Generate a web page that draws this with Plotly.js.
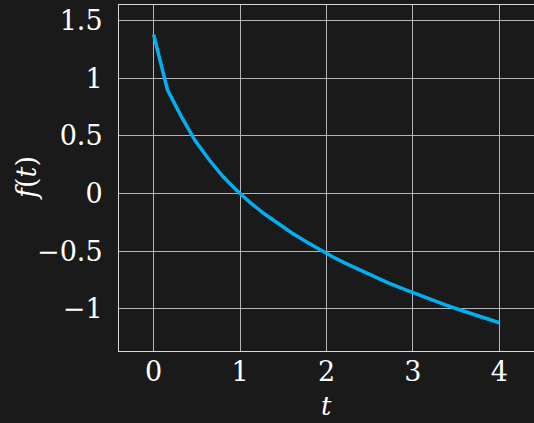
<!DOCTYPE html>
<html>
<head>
<meta charset="utf-8">
<script src="https://cdn.plot.ly/plotly-3.0.1.min.js"></script>
<style>html,body{margin:0;padding:0;background:#1a1a1a;}#chart{width:534px;height:423px;}</style>
</head>
<body>
<div id="chart"></div>
<script>
const tValues = [0, 0.16, 0.32, 0.48, 0.64, 0.8, 0.96, 1.12, 1.28, 1.44, 1.6, 1.76, 1.92, 2.08, 2.24, 2.4, 2.56, 2.72, 2.88, 3.04, 3.2, 3.36, 3.52, 3.68, 3.84, 4.0];
const fValues = [1.38, 0.90, 0.67, 0.46, 0.295, 0.15, 0.028, -0.08, -0.175, -0.262, -0.342, -0.416, -0.487, -0.552, -0.612, -0.669, -0.724, -0.776, -0.825, -0.872, -0.917, -0.961, -1.003, -1.043, -1.082, -1.12];
const xTickVals = [0, 1, 2, 3, 4];
const xTickText = ['0', '1', '2', '3', '4'];
const yTickVals = [-1, -0.5, 0, 0.5, 1, 1.5];
const yTickText = ['\u22121', '\u22120.5', '0', '0.5', '1', '1.5'];
const xTitle = '<i>t</i>';
const yTitle = '<i>f</i>(<i>t</i>)';

const font = {family: '"DejaVu Serif", serif', color: '#ffffff', size: 27};
const titleFont = {family: '"DejaVu Serif", serif', color: '#ffffff', size: 26};
const trace = {
  x: tValues, y: fValues, type: 'scatter', mode: 'lines',
  line: {color: '#00b0f0', width: 3.5}, hoverinfo: 'skip'
};
const layout = {
  width: 534, height: 423,
  margin: {l: 119, r: 0, t: 5, b: 72},
  paper_bgcolor: '#1a1a1a', plot_bgcolor: '#1a1a1a',
  font: font, showlegend: false,
  xaxis: {
    range: [-0.4, 4.4], tickvals: xTickVals, ticktext: xTickText,
    showgrid: true, gridcolor: '#b4b4b4', gridwidth: 1, zeroline: false,
    showline: true, linecolor: '#d8d8d8', linewidth: 1, mirror: true,
    ticks: '', ticklabelstandoff: -3, tickfont: font
  },
  yaxis: {
    range: [-1.365, 1.635], tickvals: yTickVals, ticktext: yTickText,
    showgrid: true, gridcolor: '#b4b4b4', gridwidth: 1, zeroline: false,
    showline: true, linecolor: '#d8d8d8', linewidth: 1,
    ticks: '', ticklabelstandoff: 10, tickfont: font
  },
  annotations: [
    {text: xTitle, xref: 'paper', yref: 'paper', x: 0.5, y: 0, xanchor: 'center', yanchor: 'bottom', yshift: -72, showarrow: false, font: titleFont},
    {text: yTitle, xref: 'paper', yref: 'paper', x: 0, y: 0.5, xanchor: 'center', yanchor: 'middle', xshift: -93, textangle: -90, showarrow: false, font: font}
  ]
};
Plotly.newPlot('chart', [trace], layout, {displayModeBar: false, staticPlot: true});
</script>
</body>
</html>
